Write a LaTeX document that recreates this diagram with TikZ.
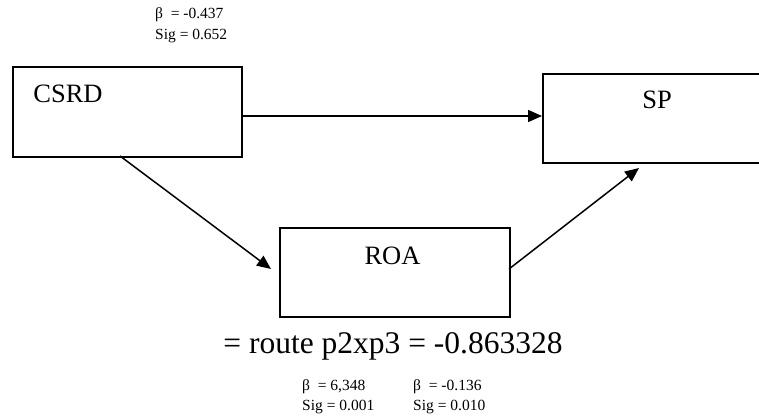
\documentclass[tikz,border=0pt]{standalone}
\usepackage{fontspec}
\setmainfont{Liberation Serif}
\usetikzlibrary{arrows.meta}
\begin{document}
\begin{tikzpicture}[x=1pt,y=-1pt,
  box/.style={draw,line width=1.6pt,rectangle},
  conn/.style={line width=1.5pt,-{Triangle[length=14pt,width=12pt]}},
  small/.style={font=\fontsize{15.5}{17}\selectfont,anchor=west,inner sep=0pt},
  big/.style={font=\fontsize{26.5}{30}\selectfont,inner sep=0pt}]
\useasboundingbox (0,0) rectangle (759,419);
\node[box,minimum width=229pt,minimum height=90pt,anchor=north west] (csrd) at (12,66) {};
\node[box,minimum width=222pt,minimum height=89pt,anchor=north west] (sp) at (542,73) {};
\node[box,minimum width=230pt,minimum height=89pt,anchor=north west] (roa) at (279,227) {};
\node[big] (csrdt) at (68,94) {CSRD};
\node[big] (spt) at (657,100) {SP};
\node[big] (roat) at (392.5,256) {ROA};
\coordinate (c1) at (241,116);
\coordinate (s1) at (542,116);
\coordinate (c2) at (120,156);
\coordinate (r1) at (271,269);
\coordinate (r2) at (509,269);
\coordinate (s2) at (639,168);
\draw[conn] (c1) -- (s1);
\draw[conn] (c2) -- (r1);
\draw[conn] (r2) -- (s2);
\node[small] (b1) at (155,15) {β\ \ = -0.437};
\node[small] (g1) at (155,36) {Sig = 0.652};
\node[font=\fontsize{31.5}{34}\selectfont,inner sep=0pt] (eq) at (393,346) {= route p2xp3 = -0.863328};
\node[small] (b2) at (302,387) {β\ \ = 6,348};
\node[small] (g2) at (302,407) {Sig = 0.001};
\node[small] (b3) at (413,387) {β\ \ = -0.136};
\node[small] (g3) at (413,407) {Sig = 0.010};
\end{tikzpicture}
\end{document}
